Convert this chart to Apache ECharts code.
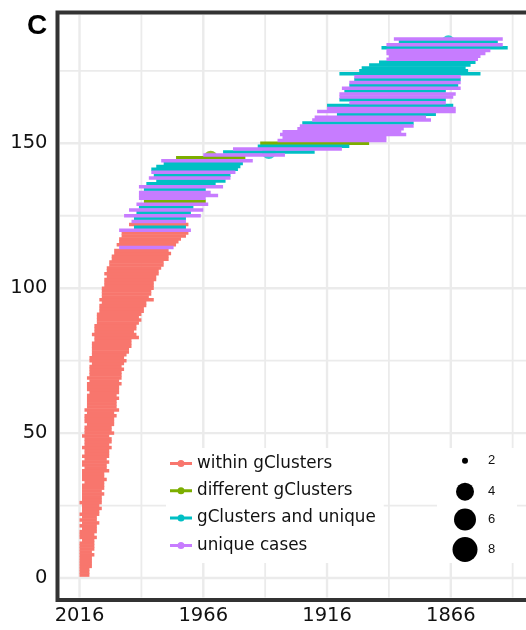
<!DOCTYPE html>
<html>
<head>
<meta charset="utf-8">
<script src="https://cdn.jsdelivr.net/npm/echarts@6/dist/echarts.min.js"></script>
<style>
  html, body { margin: 0; padding: 0; background: #fff; }
  #chart { width: 526px; height: 630px; }
</style>
</head>
<body>
<div id="chart"></div>
<script>
// Pair categories and their colours (legend order)
const categories = ['within gClusters', 'different gClusters', 'gClusters and unique', 'unique cases'];
const categoryColors = ['#F8766D', '#7CAE00', '#00BFC4', '#C77CFF'];

// One row per pair, from the bottom row (1) to the top row (186):
// more recent year, older year, category index
const startYear = [
  2016,2016,2016,2016,2016,2016,2016,2016,2016,2016,
  2016,2016,2015,2016,2016,2016,2015,2016,2015,2016,
  2015,2016,2015,2015,2015,2016,2015,2015,2015,2015,
  2015,2015,2014,2015,2015,2015,2015,2014,2015,2015,
  2014,2015,2014,2014,2015,2014,2014,2014,2015,2014,
  2014,2014,2013,2014,2014,2014,2013,2014,2013,2013,
  2013,2013,2013,2012,2013,2013,2013,2012,2013,2012,
  2012,2012,2012,2011,2012,2012,2011,2011,2011,2011,
  2011,2010,2010,2011,2010,2010,2010,2009,2009,2009,
  2009,2008,2008,2008,2007,2008,2007,2007,2007,2007,
  2006,2006,2006,2005,2006,2005,2005,2004,2004,2003,
  2003,2002,2002,2000,2001,2000,2000,1999,1999,2000,
  1994,1996,1995,1994,1998,1993,1996,1992,1993,1990,
  1992,1992,1992,1990,1992,1989,1985,1988,1986,1987,
  1987,1985,1982,1983,1977,1966,1958,1954,1944,1943,
  1936,1934,1935,1934,1928,1927,1926,1922,1921,1912,
  1920,1916,1916,1907,1911,1911,1911,1909,1910,1907,
  1907,1905,1905,1911,1903,1902,1899,1895,1892,1891,
  1892,1892,1894,1892,1887,1889
];
const endYear = [
  2012,2012,2012,2011,2011,2011,2011,2010,2011,2010,
  2010,2010,2010,2009,2010,2009,2009,2009,2008,2009,
  2009,2008,2008,2007,2008,2007,2007,2007,2006,2007,
  2006,2006,2006,2005,2006,2006,2004,2005,2005,2004,
  2005,2004,2004,2004,2003,2004,2003,2003,2004,2002,
  2003,2003,2002,2002,2002,2001,2002,2000,2001,2001,
  2001,2000,2001,2000,2000,2000,1999,2000,1999,1999,
  1999,1998,1999,1998,1997,1998,1997,1996,1996,1995,
  1995,1995,1992,1993,1994,1993,1993,1992,1991,1992,
  1991,1990,1990,1989,1989,1986,1988,1987,1987,1986,
  1986,1986,1985,1985,1984,1984,1983,1982,1982,1980,
  1980,1979,1980,1978,1977,1976,1975,1973,1972,1971,
  1973,1972,1973,1973,1967,1971,1966,1970,1964,1965,
  1965,1960,1963,1965,1958,1961,1957,1955,1955,1953,
  1952,1951,1950,1946,1949,1933,1921,1910,1907,1899,
  1892,1892,1884,1886,1885,1881,1881,1874,1876,1872,
  1864,1864,1865,1868,1868,1865,1864,1868,1862,1863,
  1862,1862,1862,1854,1859,1860,1858,1856,1855,1854,
  1852,1850,1843,1845,1847,1845
];
const pairGroup = [
  0,0,0,0,0,0,0,0,0,0,
  0,0,0,0,0,0,0,0,0,0,
  0,0,0,0,0,0,0,0,0,0,
  0,0,0,0,0,0,0,0,0,0,
  0,0,0,0,0,0,0,0,0,0,
  0,0,0,0,0,0,0,0,0,0,
  0,0,0,0,0,0,0,0,0,0,
  0,0,0,0,0,0,0,0,0,0,
  0,0,0,0,0,0,0,0,0,0,
  0,0,0,0,0,0,0,0,0,0,
  0,0,0,0,0,0,0,0,0,0,
  0,0,0,3,0,0,0,0,0,3,
  2,0,3,2,3,2,3,2,3,1,
  3,3,3,2,3,2,2,3,2,3,
  2,2,2,3,1,3,2,3,2,1,
  3,3,3,3,3,3,2,3,3,2,
  3,3,2,3,2,3,3,2,3,2,
  3,2,3,2,2,2,2,2,3,3,
  3,3,2,3,2,3
];

// Midpoint markers that reach beyond the neighbouring segments (row, size)
const markerRows = [145, 147, 185];
const markerSizes = [14, 14, 13];

// Axis breaks
const xTickLabels = [2016, 1966, 1916, 1866];
const xMinorBreaks = [1991, 1941, 1891, 1841];
const yTickLabels = [0, 50, 100, 150];
const yMinorBreaks = [25, 75, 125, 175];

// Size key
const sizeKeyValues = ['2', '4', '6', '8'];
const sizeKeyDiameters = [6, 18, 22, 25];

const X_MIN = 1831.57, X_MAX = 2024.9;
const Y_MIN = -7.6, Y_MAX = 195.13;
const FONT = 'DejaVu Sans';
const SEG_THICKNESS = 3.5;

const chart = echarts.init(document.getElementById('chart'), null, { renderer: 'canvas' });

// grid lines: [x value, y value, orientation (0 vertical, 1 horizontal), major flag]
const gridData = [];
xTickLabels.forEach(v => gridData.push([v, 0, 0, 1]));
xMinorBreaks.forEach(v => gridData.push([v, 0, 0, 0]));
yTickLabels.forEach(v => gridData.push([2016, v, 1, 1]));
yMinorBreaks.forEach(v => gridData.push([2016, v, 1, 0]));

function renderGridLine(params, api) {
  const cs = params.coordSys;
  const p = api.coord([api.value(0), api.value(1)]);
  const w = api.value(3) ? 2.4 : 1.8;
  const inset = 2.5;
  let shape;
  if (api.value(2) === 0) {
    shape = { x: p[0] - w / 2, y: cs.y + inset, width: w, height: cs.height - 2 * inset };
  } else {
    shape = { x: cs.x + inset, y: p[1] - w / 2, width: cs.width - 2 * inset, height: w };
  }
  return { type: 'rect', shape, style: { fill: '#EBEBEB' } };
}

function renderSegment(params, api) {
  const row = api.value(2);
  const a = api.coord([api.value(0), row]);
  const b = api.coord([api.value(1), row]);
  return {
    type: 'rect',
    shape: {
      x: Math.min(a[0], b[0]),
      y: a[1] - SEG_THICKNESS / 2,
      width: Math.abs(b[0] - a[0]),
      height: SEG_THICKNESS
    },
    style: { fill: api.visual('color') }
  };
}

const series = [{
  type: 'custom',
  name: 'grid',
  silent: true,
  z: 1,
  renderItem: renderGridLine,
  encode: { x: 0, y: 1 },
  data: gridData
}, {
  type: 'scatter',
  name: 'midpoints',
  silent: true,
  z: 1,
  symbol: 'circle',
  data: markerRows.map((r, i) => ({
    value: [(startYear[r - 1] + endYear[r - 1]) / 2, r],
    symbolSize: markerSizes[i],
    itemStyle: { color: categoryColors[pairGroup[r - 1]] }
  }))
}];

categories.forEach((name, k) => {
  const rows = [];
  for (let i = 0; i < startYear.length; i++) {
    if (pairGroup[i] === k) rows.push([startYear[i], endYear[i], i + 1]);
  }
  series.push({
    type: 'custom',
    name,
    z: 2,
    itemStyle: { color: categoryColors[k] },
    renderItem: renderSegment,
    encode: { x: [0, 1], y: 2 },
    data: rows
  });
});

const sizeKeyY = [460.7, 491.7, 519.5, 549.5];
const graphics = [
  { type: 'text', left: 27, top: 12, z: 10,
    style: { text: 'C', font: 'bold 28px "Liberation Sans"', fill: '#000' } },
  { type: 'rect', z: 10, shape: { x: 437, y: 448, width: 80, height: 115 }, style: { fill: '#fff' } }
];
sizeKeyValues.forEach((lab, i) => {
  graphics.push({ type: 'circle', z: 11, shape: { cx: 465, cy: sizeKeyY[i], r: sizeKeyDiameters[i] / 2 }, style: { fill: '#000' } });
  graphics.push({ type: 'text', z: 11, x: 488, y: sizeKeyY[i],
    style: { text: lab, font: '13px "Liberation Sans"', fill: '#111', verticalAlign: 'middle' } });
});

const plainNumber = v => String(v);

chart.setOption({
  animation: false,
  backgroundColor: '#fff',
  grid: {
    show: true, left: 57.5, top: 12.5, right: -10, bottom: 30,
    backgroundColor: '#fff', borderColor: '#333', borderWidth: 4,
    containLabel: false, outerBoundsMode: 'none'
  },
  xAxis: {
    type: 'value', inverse: true, min: X_MIN, max: X_MAX,
    axisLine: { show: false }, axisTick: { show: false }, splitLine: { show: false },
    axisLabel: { customValues: xTickLabels, formatter: plainNumber, margin: 6,
      fontFamily: FONT, fontSize: 19.5, color: '#111' }
  },
  yAxis: {
    type: 'value', min: Y_MIN, max: Y_MAX,
    axisLine: { show: false }, axisTick: { show: false }, splitLine: { show: false },
    axisLabel: { customValues: yTickLabels, formatter: plainNumber, margin: 10,
      fontFamily: FONT, fontSize: 19.5, color: '#111' }
  },
  legend: {
    data: categories,
    orient: 'vertical',
    left: 166, top: 448,
    padding: [5.5, 8, 7.5, 4],
    backgroundColor: '#fff',
    itemWidth: 22, itemHeight: 7, itemGap: 7.3,
    icon: 'path://M0,2H22V5H0Z M7.5,3.5A3.5,3.5 0 1 1 14.5,3.5A3.5,3.5 0 1 1 7.5,3.5Z',
    selectedMode: false,
    textStyle: { fontFamily: FONT, fontSize: 16.8, color: '#111', lineHeight: 20 }
  },
  graphic: graphics,
  series
});
</script>
</body>
</html>
